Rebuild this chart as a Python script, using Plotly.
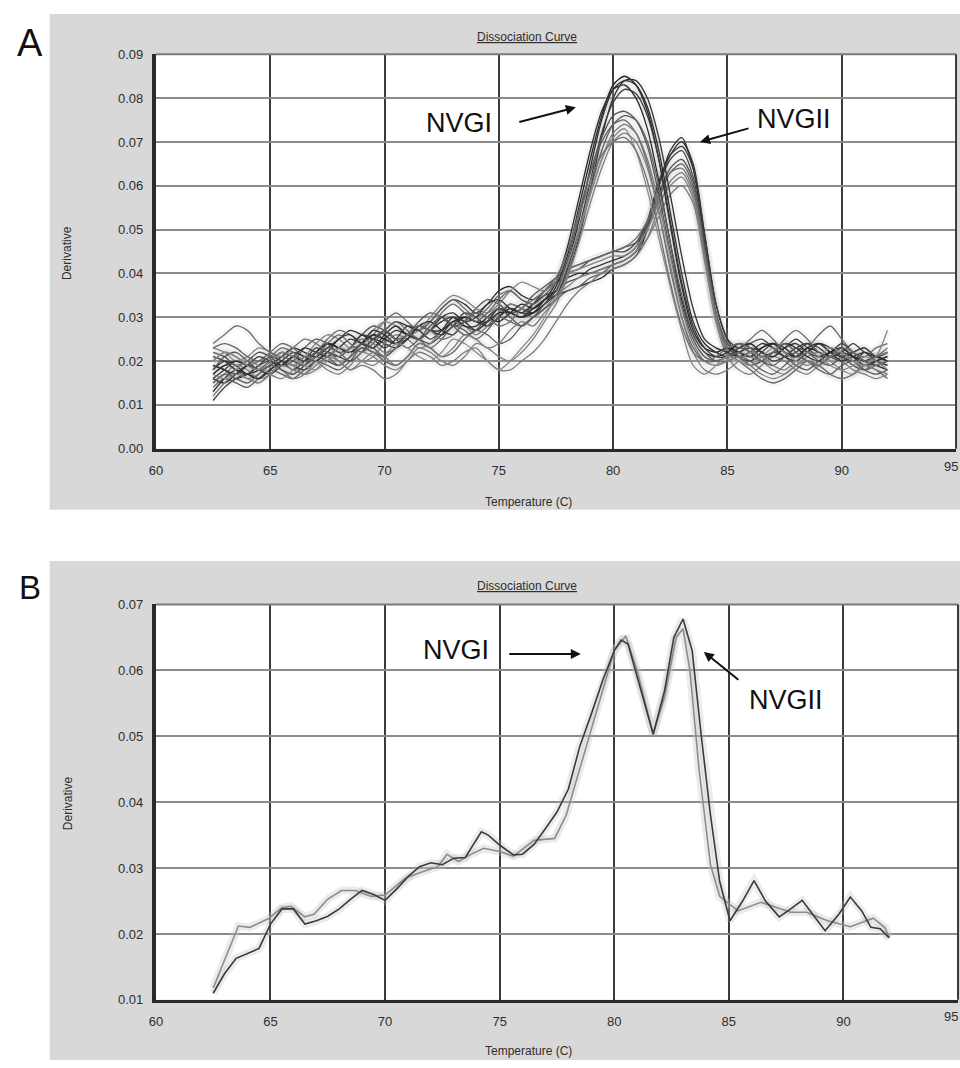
import plotly.graph_objects as go

# ---------------- DATA ----------------
temp_a = [62.5, 63.0, 63.5, 64.0, 64.5, 65.0, 65.5, 66.0, 66.5, 67.0,
          67.5, 68.0, 68.5, 69.0, 69.5, 70.0, 70.5, 71.0, 71.5, 72.0,
          72.5, 73.0, 73.5, 74.0, 74.5, 75.0, 75.5, 76.0, 76.5, 77.0,
          77.5, 78.0, 78.5, 79.0, 79.5, 80.0, 80.5, 81.0, 81.5, 82.0,
          82.5, 83.0, 83.5, 84.0, 84.5, 85.0, 85.5, 86.0, 86.5, 87.0,
          87.5, 88.0, 88.5, 89.0, 89.5, 90.0, 90.5, 91.0, 91.5, 92.0]

# Panel A, NVGI melt peaks (~80.5 C)
nvgi_curves = [
    [.017, .019, .020, .019, .018, .020, .022, .021, .020, .022, .024, .023, .022, .024, .026, .025, .024, .026, .028, .027,
     .027, .029, .030, .029, .029, .031, .031, .030, .031, .033, .037,
     .044, .055, .066, .076, .083, .085, .083, .077, .066, .051, .037, .027, .023, .022, .023,
     .022, .021, .023, .024, .022, .021, .023, .022, .021, .022, .021, .020, .021, .020],
    [.013, .016, .018, .017, .016, .018, .020, .022, .021, .020, .022, .025, .026, .024, .023, .025, .027, .026, .025, .027,
     .029, .030, .028, .028, .030, .032, .031, .030, .032, .034, .036,
     .042, .052, .064, .075, .082, .084, .083, .078, .068, .054, .040, .029, .024, .022, .021,
     .023, .024, .022, .021, .023, .024, .022, .021, .022, .023, .021, .019, .020, .021],
    [.019, .018, .017, .019, .021, .020, .019, .021, .023, .022, .021, .023, .025, .024, .023, .026, .028, .026, .025, .027,
     .030, .031, .029, .030, .033, .034, .032, .031, .033, .035, .036,
     .040, .048, .059, .071, .080, .084, .084, .080, .071, .058, .044, .032, .025, .023, .022,
     .021, .022, .024, .023, .021, .020, .022, .024, .022, .020, .021, .022, .020, .019],
    [.016, .015, .017, .019, .018, .017, .019, .021, .020, .022, .024, .023, .022, .024, .027, .026, .024, .025, .028, .029,
     .027, .026, .029, .031, .030, .029, .031, .033, .032, .034, .038,
     .046, .057, .068, .077, .082, .083, .080, .073, .061, .047, .034, .026, .022, .021, .022,
     .024, .023, .021, .022, .024, .023, .021, .020, .022, .023, .021, .020, .019, .018],
    [.021, .020, .018, .017, .019, .021, .020, .018, .020, .023, .022, .021, .023, .026, .025, .023, .025, .028, .027, .025,
     .027, .030, .029, .027, .029, .032, .031, .030, .032, .034, .035,
     .041, .050, .061, .072, .079, .082, .081, .076, .066, .052, .038, .028, .023, .021, .021,
     .022, .023, .022, .020, .021, .023, .024, .022, .021, .022, .024, .022, .021, .022],
    [.018, .021, .022, .020, .018, .019, .021, .020, .019, .021, .023, .022, .020, .022, .025, .027, .025, .023, .025, .028,
     .030, .028, .026, .027, .030, .032, .030, .028, .030, .033, .036,
     .043, .053, .063, .071, .076, .077, .075, .069, .058, .045, .033, .025, .021, .020, .021,
     .023, .022, .020, .019, .021, .023, .022, .020, .019, .021, .022, .020, .019, .020],
    [.015, .017, .016, .015, .017, .019, .018, .017, .019, .022, .021, .019, .021, .024, .023, .021, .023, .026, .025, .023,
     .025, .028, .027, .025, .027, .030, .029, .028, .030, .032, .034,
     .040, .049, .059, .068, .074, .076, .075, .070, .060, .047, .035, .026, .022, .020, .020,
     .021, .020, .018, .017, .019, .021, .020, .018, .017, .019, .020, .018, .017, .018],
    [.023, .024, .023, .021, .020, .021, .023, .022, .020, .021, .024, .026, .024, .022, .024, .027, .029, .027, .025, .027,
     .031, .033, .031, .029, .031, .034, .036, .034, .033, .035, .038,
     .045, .054, .063, .070, .074, .075, .072, .065, .054, .041, .030, .023, .020, .020, .021,
     .022, .021, .020, .022, .024, .022, .020, .019, .021, .022, .020, .018, .019, .020],
    [.012, .015, .017, .016, .015, .017, .019, .018, .017, .019, .021, .020, .018, .020, .022, .021, .019, .021, .024, .023,
     .021, .023, .026, .025, .023, .024, .027, .029, .028, .031, .034,
     .040, .049, .058, .066, .072, .074, .072, .066, .056, .044, .032, .024, .020, .019, .020,
     .021, .019, .017, .016, .017, .019, .020, .019, .017, .016, .017, .019, .018, .017],
    [.020, .022, .021, .019, .018, .020, .022, .021, .019, .018, .020, .023, .022, .020, .019, .021, .024, .023, .021, .020,
     .022, .025, .024, .022, .020, .018, .020, .023, .026, .030, .035,
     .042, .050, .058, .066, .071, .073, .068, .059, .048, .037, .027, .019, .017, .019, .021,
     .020, .019, .021, .023, .022, .020, .019, .021, .023, .022, .020, .019, .021, .022],
    [.017, .016, .018, .020, .019, .017, .016, .018, .021, .020, .018, .017, .019, .022, .021, .019, .018, .020, .023, .022,
     .020, .019, .021, .024, .023, .021, .020, .022, .025, .029, .033,
     .039, .047, .056, .064, .070, .072, .070, .064, .054, .042, .030, .022, .018, .017, .018,
     .020, .022, .021, .019, .018, .020, .022, .021, .019, .018, .019, .021, .020, .018],
    [.024, .026, .028, .027, .024, .022, .021, .023, .025, .024, .022, .021, .023, .025, .024, .022, .023, .026, .028, .027,
     .025, .026, .029, .031, .030, .028, .029, .032, .034, .036, .039,
     .045, .053, .061, .067, .070, .071, .068, .061, .050, .038, .028, .022, .020, .021, .023,
     .024, .023, .021, .022, .025, .027, .025, .022, .021, .023, .022, .020, .021, .023],
]
nvgi_shades = ["#262626", "#2e2e2e", "#333333", "#2a2a2a", "#3a3a3a", "#555555",
               "#5e5e5e", "#666666", "#7a7a7a", "#8a8a8a", "#808080", "#6e6e6e"]

# Panel A, NVGII melt peaks (~83 C)
nvgii_curves = [
    [.018, .020, .019, .017, .018, .020, .022, .021, .020, .022, .024, .023, .022, .024, .026, .025, .024, .026, .028, .027,
     .026, .028, .030, .029, .028, .030, .032, .031, .031, .033, .035,
     .036, .037, .038, .039, .041, .042, .044, .050, .060, .068, .071, .064, .047, .031, .024,
     .022, .021, .023, .024, .022, .021, .023, .024, .022, .021, .022, .023, .021, .022],
    [.016, .018, .020, .019, .018, .019, .021, .023, .022, .021, .023, .025, .027, .026, .025, .027, .029, .028, .027, .029,
     .032, .034, .033, .031, .033, .036, .037, .035, .034, .036, .038,
     .039, .040, .040, .041, .042, .043, .045, .051, .060, .067, .070, .065, .049, .033, .025,
     .021, .020, .022, .024, .023, .021, .022, .024, .023, .021, .020, .022, .021, .020],
    [.011, .014, .016, .017, .016, .018, .020, .019, .018, .020, .022, .021, .020, .022, .025, .024, .023, .025, .028, .027,
     .026, .028, .031, .030, .028, .030, .033, .032, .031, .034, .036,
     .038, .039, .041, .042, .043, .044, .046, .052, .061, .067, .069, .064, .049, .033, .025,
     .023, .024, .022, .021, .023, .025, .023, .021, .022, .024, .022, .020, .021, .022],
    [.019, .018, .016, .017, .019, .020, .018, .017, .019, .021, .020, .019, .021, .023, .022, .021, .023, .026, .025, .024,
     .026, .029, .028, .027, .029, .032, .031, .030, .033, .036, .038,
     .040, .041, .043, .044, .045, .045, .047, .052, .060, .066, .068, .062, .046, .030, .023,
     .022, .024, .025, .023, .021, .022, .024, .023, .021, .020, .022, .023, .021, .022],
    [.022, .021, .019, .020, .022, .021, .019, .020, .023, .025, .024, .022, .023, .026, .028, .027, .025, .026, .029, .031,
     .030, .028, .029, .032, .034, .033, .031, .032, .035, .037, .039,
     .041, .042, .043, .044, .045, .046, .047, .051, .058, .064, .066, .061, .046, .031, .023,
     .021, .019, .020, .022, .021, .019, .018, .020, .022, .021, .019, .018, .020, .021],
    [.014, .016, .015, .014, .016, .018, .017, .016, .018, .020, .019, .018, .020, .023, .022, .020, .019, .021, .024, .023,
     .021, .022, .025, .027, .026, .024, .025, .028, .030, .032, .034,
     .036, .037, .039, .040, .042, .043, .045, .050, .057, .063, .065, .060, .045, .030, .022,
     .020, .018, .016, .015, .016, .018, .020, .019, .017, .016, .017, .019, .018, .016],
    [.020, .022, .021, .019, .020, .022, .024, .023, .021, .022, .025, .027, .026, .024, .026, .029, .031, .029, .027, .029,
     .032, .034, .032, .030, .032, .035, .036, .034, .033, .036, .039,
     .041, .042, .043, .044, .045, .046, .048, .052, .058, .063, .064, .059, .045, .031, .024,
     .023, .025, .027, .025, .022, .021, .023, .026, .028, .025, .022, .021, .023, .024],
    [.017, .019, .018, .016, .017, .019, .018, .016, .017, .020, .022, .020, .018, .019, .018, .016, .017, .020, .022, .021,
     .019, .020, .022, .023, .020, .018, .018, .020, .022, .025, .029,
     .033, .036, .038, .040, .041, .042, .044, .048, .055, .061, .063, .058, .044, .029, .021,
     .018, .017, .019, .021, .020, .018, .017, .019, .021, .020, .018, .017, .016, .017],
    [.023, .022, .020, .021, .023, .022, .020, .019, .021, .024, .026, .025, .023, .024, .027, .029, .028, .026, .027, .030,
     .033, .035, .034, .032, .031, .033, .036, .038, .037, .036, .038,
     .040, .041, .042, .043, .044, .044, .046, .050, .056, .060, .062, .057, .043, .029, .022,
     .021, .022, .020, .018, .017, .019, .021, .022, .020, .018, .017, .019, .020, .019],
    [.015, .017, .019, .018, .016, .017, .020, .019, .017, .018, .021, .023, .022, .020, .021, .024, .026, .025, .023, .024,
     .027, .029, .028, .026, .028, .031, .033, .032, .030, .032, .035,
     .037, .039, .040, .041, .042, .043, .045, .048, .053, .058, .060, .056, .043, .030, .023,
     .024, .022, .020, .022, .024, .022, .020, .019, .021, .023, .021, .019, .021, .027],
]
nvgii_shades = ["#2a2a2a", "#303030", "#383838", "#4a4a4a", "#555555",
                "#606060", "#6a6a6a", "#7a7a7a", "#858585", "#7f7f7f"]

# Panel B: two samples
temp_b_dark = [62.5, 63.0, 63.5, 64.0, 64.5, 65.0, 65.5, 66.0, 66.5, 67.0, 67.5, 68.0, 68.5, 69.0, 69.5, 70.0,
               70.5, 71.0, 71.5, 72.0, 72.5, 73.0, 73.5, 74.2, 74.5, 75.0, 75.6, 76.0, 76.5, 77.0, 77.5,
               78.0, 78.5, 79.0, 79.5, 80.0, 80.3, 80.6, 81.0, 81.7, 82.2, 82.6, 83.0, 83.4, 83.8, 84.2,
               84.6, 85.05, 85.6, 86.1, 86.6, 87.2, 87.7, 88.2, 88.7, 89.2, 89.8, 90.3, 90.8, 91.2, 91.6, 92.0]
deriv_b_dark = [.0110, .0140, .0163, .0170, .0178, .0215, .0238, .0238, .0215, .0220, .0227, .0238, .0253, .0266, .0260, .0251,
                .0268, .0287, .0302, .0308, .0305, .0315, .0316, .0355, .0350, .0335, .0320, .0321, .0336, .0360, .0385,
                .0420, .0485, .0534, .0585, .0630, .0646, .0640, .0590, .0503, .0570, .0650, .0678, .0630, .0500, .0380,
                .0280, .0220, .0250, .0281, .0250, .0226, .0238, .0251, .0228, .0205, .0230, .0256, .0235, .0210, .0208, .0194]

temp_b_light = [62.5, 63.0, 63.6, 64.1, 64.9, 65.5, 65.9, 66.5, 66.9, 67.5, 68.1, 68.7, 69.4, 70.0, 70.9, 71.6,
                72.3, 72.7, 73.2, 73.7, 74.3, 75.0, 75.6, 76.5, 77.4, 77.9, 78.5, 79.0, 79.5, 80.0, 80.5,
                81.0, 81.7, 82.2, 82.7, 83.0, 83.3, 83.7, 84.2, 84.6, 85.4, 86.4, 87.7, 88.4, 89.3, 90.3,
                91.3, 91.8, 92.0]
deriv_b_light = [.0118, .0160, .0212, .0210, .0223, .0240, .0242, .0226, .0230, .0253, .0266, .0266, .0257, .0259, .0285, .0294,
                 .0302, .0321, .0310, .0320, .0330, .0325, .0318, .0342, .0345, .0380, .0450, .0510, .0570, .0630, .0652,
                 .0600, .0503, .0560, .0650, .0663, .0600, .0450, .0305, .0257, .0235, .0248, .0233, .0233, .0220, .0211,
                 .0224, .0210, .0195]

temp_ticks = [60, 65, 70, 75, 80, 85, 90]
temp_last_tick = 95
deriv_ticks_a = [0.00, 0.01, 0.02, 0.03, 0.04, 0.05, 0.06, 0.07, 0.08, 0.09]
deriv_ticks_b = [0.01, 0.02, 0.03, 0.04, 0.05, 0.06, 0.07]

for c in nvgi_curves + nvgii_curves:
    assert len(c) == len(temp_a), len(c)
assert len(temp_b_dark) == len(deriv_b_dark)
assert len(temp_b_light) == len(deriv_b_light)

# ---------------- FIGURE ----------------
W, H = 960, 1068
def px(xp):
    return xp / W
def py(yp):
    return 1 - yp / H

fig = go.Figure()

# faint halo under the curves (scanned-print look)
for curve in nvgii_curves + nvgi_curves:
    fig.add_trace(go.Scatter(x=temp_a, y=curve, mode="lines", xaxis="x", yaxis="y",
                             line=dict(color="rgba(190,190,190,0.10)", width=8, shape="spline", smoothing=0.8),
                             showlegend=False, hoverinfo="skip"))
for curve, col in zip(nvgii_curves, nvgii_shades):
    fig.add_trace(go.Scatter(x=temp_a, y=curve, mode="lines", xaxis="x", yaxis="y",
                             line=dict(color=col, width=1.3, shape="spline", smoothing=0.8),
                             showlegend=False, hoverinfo="skip"))
for curve, col in zip(nvgi_curves, nvgi_shades):
    fig.add_trace(go.Scatter(x=temp_a, y=curve, mode="lines", xaxis="x", yaxis="y",
                             line=dict(color=col, width=1.3, shape="spline", smoothing=0.8),
                             showlegend=False, hoverinfo="skip"))

for tx, dy in [(temp_b_light, deriv_b_light), (temp_b_dark, deriv_b_dark)]:
    fig.add_trace(go.Scatter(x=tx, y=dy, mode="lines", xaxis="x2", yaxis="y2",
                             line=dict(color="rgba(190,190,190,0.30)", width=8),
                             showlegend=False, hoverinfo="skip"))
fig.add_trace(go.Scatter(x=temp_b_light, y=deriv_b_light, mode="lines", xaxis="x2", yaxis="y2",
                         line=dict(color="#8c8c8c", width=1.6), showlegend=False, hoverinfo="skip"))
fig.add_trace(go.Scatter(x=temp_b_dark, y=deriv_b_dark, mode="lines", xaxis="x2", yaxis="y2",
                         line=dict(color="#3a3a3a", width=1.6), showlegend=False, hoverinfo="skip"))

FONT = "Liberation Sans, Arial, sans-serif"
tickfont = dict(family=FONT, size=13, color="#2e2e2e")

xcommon = dict(range=[60, 95], tickvals=temp_ticks, ticktext=[str(t) for t in temp_ticks],
               showgrid=True, gridcolor="#3a3a3a", gridwidth=2, zeroline=False,
               showline=True, linecolor="#2a2a2a", linewidth=3, ticks="", tickfont=tickfont,
               ticklabelstandoff=8, fixedrange=True)
ycommon = dict(showgrid=True, gridcolor="#8a8a8a", gridwidth=1.5, zeroline=False,
               showline=True, linecolor="#2a2a2a", linewidth=4, ticks="", tickfont=tickfont,
               ticklabelstandoff=6, tickformat=".2f", fixedrange=True)

fig.update_layout(
    width=W, height=H, margin=dict(l=0, r=0, t=0, b=0),
    paper_bgcolor="white", plot_bgcolor="white",
    xaxis=dict(domain=[px(150), px(956)], anchor="y", **xcommon),
    yaxis=dict(domain=[py(448), py(48)], anchor="x", range=[0, 0.09],
               tickvals=deriv_ticks_a, **ycommon),
    xaxis2=dict(domain=[px(150), px(958)], anchor="y2", **xcommon),
    yaxis2=dict(domain=[py(1007), py(606)], anchor="x2", range=[0.01, 0.07],
                tickvals=deriv_ticks_b, **ycommon),
)

shapes = [
    dict(type="rect", xref="paper", yref="paper", x0=px(43), x1=1, y0=py(510), y1=py(7),
         fillcolor="#d8d8d8", line=dict(width=0), layer="below"),
    dict(type="rect", xref="paper", yref="paper", x0=px(43), x1=1, y0=0, y1=py(562),
         fillcolor="#d8d8d8", line=dict(width=0), layer="below"),
    dict(type="rect", xref="paper", yref="paper", x0=px(150), x1=px(956), y0=py(448), y1=py(48),
         fillcolor="white", line=dict(width=0), layer="below"),
    dict(type="rect", xref="paper", yref="paper", x0=px(150), x1=px(958), y0=py(1007), y1=py(606),
         fillcolor="white", line=dict(width=0), layer="below"),
    # plot frames: top (gray) and right (dark)
    dict(type="line", xref="paper", yref="paper", x0=px(150), x1=px(956), y0=py(48), y1=py(48),
         line=dict(color="#7a7a7a", width=2)),
    dict(type="line", xref="paper", yref="paper", x0=px(956), x1=px(956), y0=py(448), y1=py(48),
         line=dict(color="#3a3a3a", width=2)),
    dict(type="line", xref="paper", yref="paper", x0=px(150), x1=px(958), y0=py(606), y1=py(606),
         line=dict(color="#7a7a7a", width=2)),
    dict(type="line", xref="paper", yref="paper", x0=px(958), x1=px(958), y0=py(1007), y1=py(606),
         line=dict(color="#3a3a3a", width=2)),
]
fig.update_layout(shapes=shapes)

small = dict(family=FONT, size=12, color="#2e2e2e")
big = dict(family=FONT, size=27, color="#111111")
C = dict(xanchor="center", yanchor="middle", showarrow=False)
annots = [
    dict(text="A", x=px(23), y=py(37), xref="paper", yref="paper",
         font=dict(family=FONT, size=38, color="#111111"), **C),
    dict(text="B", x=px(23), y=py(589), xref="paper", yref="paper",
         font=dict(family=FONT, size=33, color="#111111"), **C),
    dict(text="<u>Dissociation Curve</u>", x=px(524), y=py(30), xref="paper", yref="paper",
         font=small, **C),
    dict(text="<u>Dissociation Curve</u>", x=px(524), y=py(587), xref="paper", yref="paper",
         font=small, **C),
    dict(text="Temperature (C)", x=px(525), y=py(502), xref="paper", yref="paper",
         font=small, **C),
    dict(text="Temperature (C)", x=px(525), y=py(1059), xref="paper", yref="paper",
         font=small, **C),
    dict(text="Derivative", x=px(61), y=py(250), xref="paper", yref="paper", textangle=-90,
         font=small, **C),
    dict(text="Derivative", x=px(61), y=py(808), xref="paper", yref="paper", textangle=-90,
         font=small, **C),
    # last x tick label, kept fully inside the page edge
    dict(text=str(temp_last_tick), x=1, y=py(466), xref="paper", yref="paper",
         xanchor="right", yanchor="middle", showarrow=False, font=tickfont),
    dict(text=str(temp_last_tick), x=1, y=py(1024), xref="paper", yref="paper",
         xanchor="right", yanchor="middle", showarrow=False, font=tickfont),
    # panel A labels and arrows
    dict(text="NVGI", x=73.24, y=0.0743, xref="x", yref="y", font=big, **C),
    dict(text="NVGII", x=87.92, y=0.0752, xref="x", yref="y", font=big, **C),
    dict(text="", x=78.37, y=0.0779, xref="x", yref="y", ax=-58, ay=15, showarrow=True,
         arrowhead=2, arrowsize=1, arrowwidth=2, arrowcolor="#111111"),
    dict(text="", x=83.80, y=0.0700, xref="x", yref="y", ax=50, ay=-14, showarrow=True,
         arrowhead=2, arrowsize=1, arrowwidth=2, arrowcolor="#111111"),
    # panel B labels and arrows
    dict(text="NVGI", x=73.08, y=0.0631, xref="x2", yref="y2", font=big, **C),
    dict(text="NVGII", x=87.50, y=0.0555, xref="x2", yref="y2", font=big, **C),
    dict(text="", x=78.54, y=0.0625, xref="x2", yref="y2", ax=-73, ay=0, showarrow=True,
         arrowhead=2, arrowsize=1, arrowwidth=2, arrowcolor="#111111"),
    dict(text="", x=83.91, y=0.0628, xref="x2", yref="y2", ax=36, ay=29, showarrow=True,
         arrowhead=2, arrowsize=1, arrowwidth=2, arrowcolor="#111111"),
]
fig.update_layout(annotations=annots)

fig.write_html("out.html", config={"displayModeBar": False},
               post_script="document.body.style.margin='0px';")
